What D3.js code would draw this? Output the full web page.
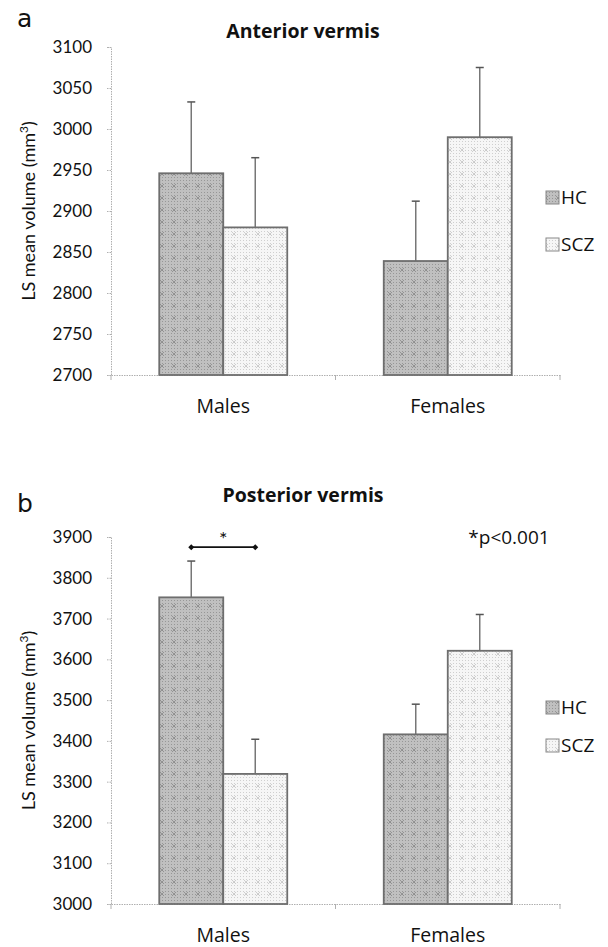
<!DOCTYPE html>
<html>
<head>
<meta charset="utf-8">
<script src="https://cdn.jsdelivr.net/npm/d3@7"></script>
<style>
  html, body { margin: 0; padding: 0; background: #fff; }
  svg { display: block; font-family: Lato, "Open Sans", sans-serif; }
</style>
</head>
<body>
<div id="chart"></div>
<script>
// categories / series
const groups = ["Males", "Females"];
const series = ["HC", "SCZ"];

// panel a: anterior vermis (LS mean, error)
const anteriorHC = [2946, 2839];
const anteriorSCZ = [2880, 2990];
const anteriorHCErr = [87, 73];
const anteriorSCZErr = [85, 85];
const anteriorTicks = [2700, 2750, 2800, 2850, 2900, 2950, 3000, 3050, 3100];

// panel b: posterior vermis
const posteriorHC = [3752, 3416];
const posteriorSCZ = [3319, 3621];
const posteriorHCErr = [89, 74];
const posteriorSCZErr = [85, 89];
const posteriorTicks = [3000, 3100, 3200, 3300, 3400, 3500, 3600, 3700, 3800, 3900];
const posteriorSig = 3875; // level of the * bracket over Males

const W = 608, H = 947;
const svg = d3.select("#chart").append("svg")
  .attr("width", W).attr("height", H);

// textures
const defs = svg.append("defs");
function texture(id, base, dot, cross) {
  const p = defs.append("pattern")
    .attr("id", id).attr("patternUnits", "userSpaceOnUse")
    .attr("width", 12).attr("height", 12);
  p.append("rect").attr("width", 12).attr("height", 12).attr("fill", base);
  for (let i = 0; i < 12; i += 3) {
    for (let j = 0; j < 12; j += 3) {
      p.append("rect").attr("x", i).attr("y", j).attr("width", 1).attr("height", 1).attr("fill", dot);
    }
  }
  p.append("path").attr("d", "M4,4L8,8M8,4L4,8").attr("stroke", cross).attr("stroke-width", 0.8);
}
texture("texHC", "#c0c0c0", "#979797", "#888");
texture("texSCZ", "#f6f6f6", "#cfcfcf", "#c4c4c4");
const fills = { HC: "url(#texHC)", SCZ: "url(#texSCZ)" };

const SANS = "'Open Sans', sans-serif";

function drawPanel(cfg) {
  const g = svg.append("g");

  const y = d3.scaleLinear().domain(cfg.domain).range([cfg.bottom, cfg.top]);
  const x0 = d3.scaleBand().domain(groups).range([111, 560]);
  const x1 = d3.scaleBand().domain(series).range([0, x0.bandwidth()]).paddingOuter(0.754);

  // panel letter and title
  g.append("text").attr("x", 17).attr("y", cfg.letterY)
    .attr("font-family", "'DejaVu Sans', sans-serif")
    .attr("font-size", 25).attr("fill", "#111").text(cfg.letter);
  g.append("text").attr("x", 303).attr("y", cfg.titleY)
    .attr("text-anchor", "middle").attr("font-weight", "bold")
    .attr("font-family", SANS)
    .attr("font-size", 19.5).attr("fill", "#111").text(cfg.title);

  // y axis
  const yAxis = g.append("g").attr("transform", "translate(111,0)")
    .call(d3.axisLeft(y).tickValues(cfg.ticks).tickSize(4).tickPadding(15).tickFormat(d3.format("d")));
  yAxis.selectAll("path, line").attr("stroke", "#b0b0b0").attr("stroke-dasharray", "1.5,1");
  yAxis.selectAll("text").attr("font-size", 17).attr("fill", "#111")
    .attr("font-family", "Lato, sans-serif");

  g.append("text")
    .attr("transform", `translate(35,${(cfg.top + cfg.bottom) / 2}) rotate(-90)`)
    .attr("text-anchor", "middle").attr("font-size", 18).attr("fill", "#111")
    .html('LS mean volume (mm<tspan dy="-7" font-size="12">3</tspan><tspan dy="7">)</tspan>');

  // x axis
  const xAxis = g.append("g").attr("transform", `translate(0,${cfg.bottom})`)
    .call(d3.axisBottom(x0).tickValues([]).tickSizeOuter(0));
  xAxis.select("path").attr("stroke", "#b0b0b0").attr("stroke-dasharray", "1.5,1");
  const edges = [111, 111 + x0.step(), 560];
  g.selectAll(".xtick").data(edges).join("line")
    .attr("x1", d => d).attr("x2", d => d)
    .attr("y1", cfg.bottom).attr("y2", cfg.bottom + 5)
    .attr("stroke", "#b0b0b0");
  g.selectAll(".xlab").data(groups).join("text")
    .attr("x", d => x0(d) + x0.bandwidth() / 2).attr("y", cfg.bottom + 38)
    .attr("text-anchor", "middle").attr("font-size", 19.5).attr("font-family", SANS)
    .attr("fill", "#111")
    .text(d => d);

  // bars
  const rows = [];
  groups.forEach((grp, i) => {
    rows.push({ grp, s: "HC", v: cfg.hc[i], e: cfg.hcErr[i] });
    rows.push({ grp, s: "SCZ", v: cfg.scz[i], e: cfg.sczErr[i] });
  });
  const bx = d => x0(d.grp) + x1(d.s);
  const bw = x1.bandwidth();

  // error bars (upper only)
  g.selectAll(".err").data(rows).join("line")
    .attr("x1", d => bx(d) + bw / 2).attr("x2", d => bx(d) + bw / 2)
    .attr("y1", d => y(d.v)).attr("y2", d => y(d.v + d.e))
    .attr("stroke", "#777").attr("stroke-width", 1.5);
  g.selectAll(".cap").data(rows).join("line")
    .attr("x1", d => bx(d) + bw / 2 - 4).attr("x2", d => bx(d) + bw / 2 + 4)
    .attr("y1", d => y(d.v + d.e)).attr("y2", d => y(d.v + d.e))
    .attr("stroke", "#555").attr("stroke-width", 1.5);

  g.selectAll(".bar").data(rows).join("rect")
    .attr("x", d => bx(d)).attr("width", bw)
    .attr("y", d => y(d.v)).attr("height", d => cfg.bottom - y(d.v))
    .attr("fill", d => fills[d.s])
    .attr("stroke", "#6e6e6e").attr("stroke-width", 1.8);

  // legend
  series.forEach((s, i) => {
    const ly = cfg.legendY[i];
    g.append("rect").attr("x", 546).attr("y", ly - 6).attr("width", 13).attr("height", 13)
      .attr("fill", fills[s]).attr("stroke", "#888").attr("stroke-width", 1);
    g.append("text").attr("x", 561).attr("y", ly + 7)
      .attr("font-size", 19).attr("font-family", SANS).attr("fill", "#111").text(s);
  });

  // significance bracket
  if (cfg.sig) {
    const sy = y(cfg.sig);
    const xa = x0("Males") + x1("HC") + bw / 2, xb = x0("Males") + x1("SCZ") + bw / 2;
    g.append("line").attr("x1", xa).attr("x2", xb).attr("y1", sy).attr("y2", sy)
      .attr("stroke", "#111").attr("stroke-width", 1.8);
    [xa, xb].forEach(xx => {
      g.append("path").attr("d", `M${xx - 3},${sy}L${xx},${sy - 3}L${xx + 3},${sy}L${xx},${sy + 3}Z`)
        .attr("fill", "#111");
    });
    g.append("text").attr("x", (xa + xb) / 2).attr("y", sy - 1)
      .attr("text-anchor", "middle").attr("font-size", 20).attr("fill", "#111").text("*");
    g.append("text").attr("x", 509).attr("y", 544)
      .attr("text-anchor", "middle").attr("font-size", 19).attr("font-family", SANS)
      .attr("fill", "#111").text("*p<0.001");
  }
}

drawPanel({
  letter: "a", letterY: 27, title: "Anterior vermis", titleY: 38,
  domain: [2700, 3100], top: 47, bottom: 375, ticks: anteriorTicks,
  hc: anteriorHC, scz: anteriorSCZ, hcErr: anteriorHCErr, sczErr: anteriorSCZErr,
  legendY: [197, 244]
});

drawPanel({
  letter: "b", letterY: 512, title: "Posterior vermis", titleY: 502,
  domain: [3000, 3900], top: 537, bottom: 904, ticks: posteriorTicks,
  hc: posteriorHC, scz: posteriorSCZ, hcErr: posteriorHCErr, sczErr: posteriorSCZErr,
  legendY: [707, 745], sig: posteriorSig
});
</script>
</body>
</html>
